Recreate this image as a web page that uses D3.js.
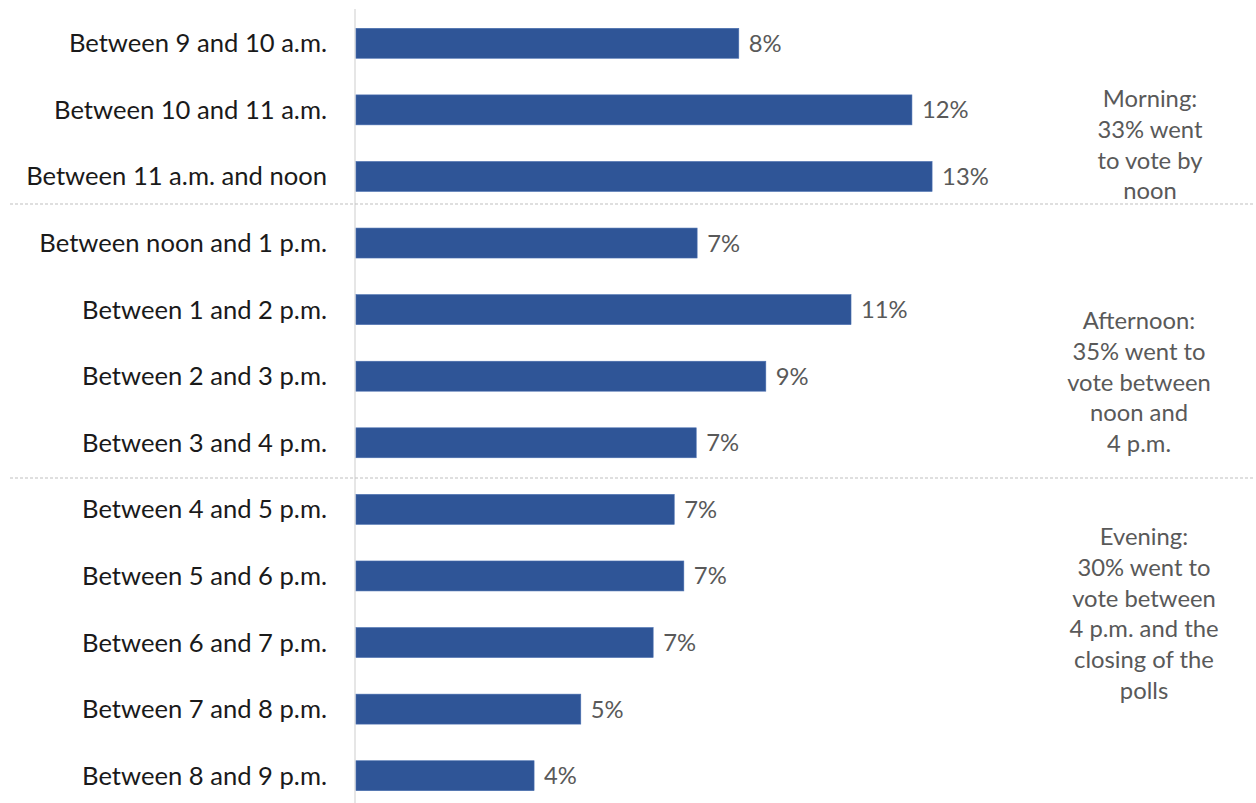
<!DOCTYPE html>
<html>
<head>
<meta charset="utf-8">
<script src="https://cdn.jsdelivr.net/npm/d3@7"></script>
<style>
  html, body { margin: 0; padding: 0; background: #ffffff; }
  svg { display: block; }
</style>
</head>
<body>
<svg id="chart" width="1256" height="803"></svg>
<script>
// ---- data ----
const categories = [
  "Between 9 and 10 a.m.",
  "Between 10 and 11 a.m.",
  "Between 11 a.m. and noon",
  "Between noon and 1 p.m.",
  "Between 1 and 2 p.m.",
  "Between 2 and 3 p.m.",
  "Between 3 and 4 p.m.",
  "Between 4 and 5 p.m.",
  "Between 5 and 6 p.m.",
  "Between 6 and 7 p.m.",
  "Between 7 and 8 p.m.",
  "Between 8 and 9 p.m."
];
const values = [8.38, 12.16, 12.6, 7.47, 10.83, 8.97, 7.45, 6.97, 7.18, 6.51, 4.93, 3.91];
const valueLabels = ["8%", "12%", "13%", "7%", "11%", "9%", "7%", "7%", "7%", "7%", "5%", "4%"];
const groupEnds = [2, 6]; // last category index of morning / afternoon groups
const morningText = ["Morning:", "33% went", "to vote by", "noon"];
const afternoonText = ["Afternoon:", "35% went to", "vote between", "noon and", "4 p.m."];
const eveningText = ["Evening:", "30% went to", "vote between", "4 p.m. and the", "closing of the", "polls"];

// ---- layout ----
const W = 1256, H = 803;
const svg = d3.select("#chart");
const FONT = "Lato, 'Open Sans', sans-serif";

const x = d3.scaleLinear().domain([0, 20]).range([355, 1271]);
const y = d3.scaleBand().domain(categories).range([10, 809]).paddingInner(0.55).paddingOuter(0.275);

// vertical axis line
svg.append("line")
  .attr("x1", x(0)).attr("x2", x(0))
  .attr("y1", 9).attr("y2", H)
  .attr("stroke", "#d9d9d9").attr("stroke-width", 1.3);

// dashed separators
const sepY = [204, 478];
svg.selectAll("line.sep").data(groupEnds).enter().append("line")
  .attr("class", "sep")
  .attr("x1", 10).attr("x2", 1253)
  .attr("y1", (d, i) => sepY[i]).attr("y2", (d, i) => sepY[i])
  .attr("stroke", "#bfbfbf").attr("stroke-width", 1.2)
  .attr("stroke-dasharray", "3,2");

// bars
svg.selectAll("rect.bar").data(values).enter().append("rect")
  .attr("class", "bar")
  .attr("x", x(0) + 1)
  .attr("y", (d, i) => y(categories[i]))
  .attr("width", d => x(d) - x(0) - 1)
  .attr("height", y.bandwidth())
  .attr("fill", "#2f5597")
  .attr("stroke", "#4a6fb0").attr("stroke-width", 0.6);

// category labels
svg.selectAll("text.cat").data(categories).enter().append("text")
  .attr("class", "cat")
  .attr("x", 327)
  .attr("y", d => y(d) + y.bandwidth() / 2 + 9)
  .attr("text-anchor", "end")
  .attr("font-family", FONT).attr("font-size", 25.6)
  .attr("fill", "#1a1a1a")
  .text(d => d);

// value labels
svg.selectAll("text.val").data(values).enter().append("text")
  .attr("class", "val")
  .attr("x", d => x(d) + 10)
  .attr("y", (d, i) => y(categories[i]) + y.bandwidth() / 2 + 8.5)
  .attr("font-family", FONT).attr("font-size", 23.8)
  .attr("fill", "#595959")
  .text((d, i) => valueLabels[i]);

// annotations
const notes = [
  { lines: morningText, cx: 1150, y0: 107 },
  { lines: afternoonText, cx: 1139, y0: 329 },
  { lines: eveningText, cx: 1144, y0: 545 }
];
notes.forEach(n => {
  const t = svg.append("text")
    .attr("text-anchor", "middle")
    .attr("font-family", FONT).attr("font-size", 23.8)
    .attr("fill", "#595959");
  n.lines.forEach((l, i) => {
    t.append("tspan").attr("x", n.cx).attr("y", n.y0 + i * 30.8).text(l);
  });
});
</script>
</body>
</html>
